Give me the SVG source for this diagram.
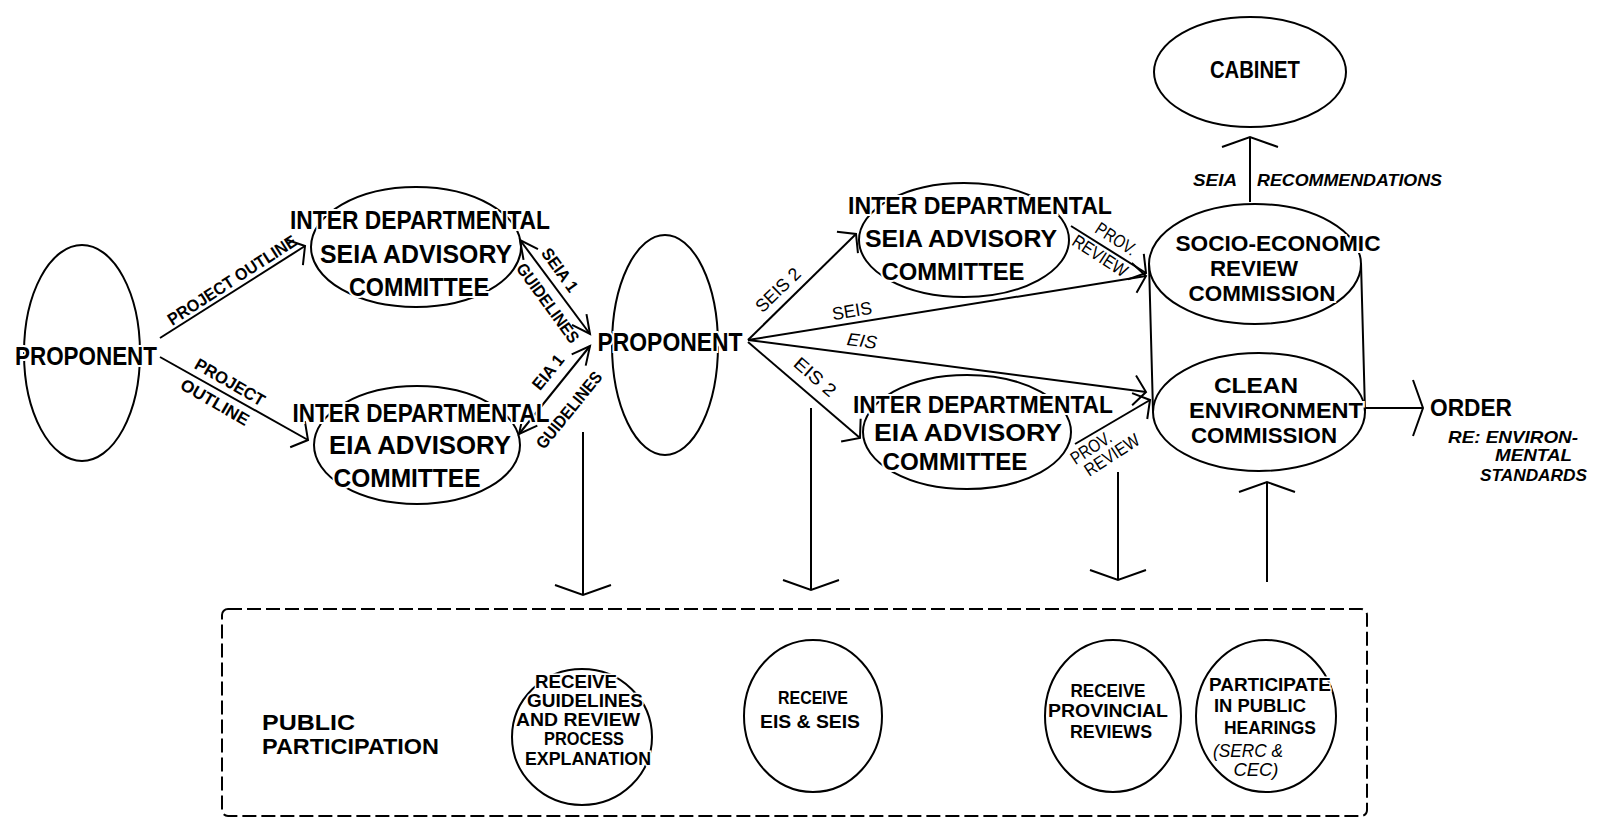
<svg xmlns="http://www.w3.org/2000/svg" width="1600" height="820" viewBox="0 0 1600 820">
<defs>
<style>
.bg{fill:#fff}
.sh{fill:none;stroke:#000;stroke-width:2}
.ln{fill:none;stroke:#000;stroke-width:2}
.mk{fill:none;stroke:#000;stroke-width:2;stroke-linejoin:miter}
.nt{font-family:"Liberation Sans",Arial,sans-serif;font-weight:bold;font-size:26px;text-anchor:middle;fill:#000;stroke:#fff;stroke-width:4;paint-order:stroke}
.nt2{font-family:"Liberation Sans",Arial,sans-serif;font-weight:bold;font-size:24px;text-anchor:middle;fill:#000;stroke:#fff;stroke-width:4;paint-order:stroke}
.nt3{font-family:"Liberation Sans",Arial,sans-serif;font-weight:bold;font-size:22px;text-anchor:middle;fill:#000;stroke:#fff;stroke-width:4;paint-order:stroke}
.ct{font-family:"Liberation Sans",Arial,sans-serif;font-weight:bold;font-size:19px;text-anchor:middle;fill:#000;stroke:#fff;stroke-width:3;paint-order:stroke}
.cti{font-family:"Liberation Sans",Arial,sans-serif;font-weight:normal;font-style:italic;font-size:19px;text-anchor:middle;fill:#000;stroke:#fff;stroke-width:3;paint-order:stroke}
.lb{font-family:"Liberation Sans",Arial,sans-serif;font-weight:bold;font-size:17px;text-anchor:middle;fill:#000}
.lr{font-family:"Liberation Sans",Arial,sans-serif;font-weight:normal;font-size:18px;text-anchor:middle;fill:#000}
.li{font-family:"Liberation Sans",Arial,sans-serif;font-weight:normal;font-style:italic;font-size:18px;text-anchor:middle;fill:#000}
.lbi{font-family:"Liberation Sans",Arial,sans-serif;font-weight:bold;font-style:italic;font-size:17px;fill:#000}
.pl{font-family:"Liberation Sans",Arial,sans-serif;font-weight:bold;font-size:22px;fill:#000}
.pp{fill:none;stroke:#000;stroke-width:2;stroke-dasharray:14 5}
</style>
<marker id="ah" markerUnits="userSpaceOnUse" orient="auto-start-reverse" refX="0" refY="0" markerWidth="60" markerHeight="60" viewBox="-30 -30 60 60" overflow="visible">
<path class="mk" d="M-12,-15 L0,0 L-12,15"/>
</marker>
<marker id="ahN" markerUnits="userSpaceOnUse" orient="auto-start-reverse" refX="0" refY="0" markerWidth="60" markerHeight="60" viewBox="-30 -30 60 60" overflow="visible">
<path class="mk" d="M-18,-9 L0,0 L-18,9"/>
</marker>
<marker id="ahW" markerUnits="userSpaceOnUse" orient="auto-start-reverse" refX="0" refY="0" markerWidth="80" markerHeight="80" viewBox="-40 -40 80 80" overflow="visible">
<path class="mk" d="M-10,-28 L0,0 L-10,28"/>
</marker>
</defs>
<rect class="bg" x="0" y="0" width="1600" height="820"/>

<g id="connectors">
<path class="ln" d="M160,338 L305,246" marker-end="url(#ah)"/>
<path class="ln" d="M160,357 L308,440" marker-end="url(#ah)"/>
<path class="ln" d="M520,240 L590,334" marker-start="url(#ahN)" marker-end="url(#ahN)"/>
<path class="ln" d="M519,434 L590,346" marker-start="url(#ahN)" marker-end="url(#ahN)"/>
<path class="ln" d="M748,340 L856,234" marker-end="url(#ah)"/>
<path class="ln" d="M748,340 L1146,276" marker-end="url(#ah)"/>
<path class="ln" d="M748,340 L1146,392" marker-end="url(#ah)"/>
<path class="ln" d="M748,342 L860,438" marker-end="url(#ah)"/>
<path class="ln" d="M1071,226 L1146,273" marker-end="url(#ah)"/>
<path class="ln" d="M1075,444 L1150,400" marker-end="url(#ah)"/>
<path class="ln" d="M1250,202 L1250,137" marker-end="url(#ahW)"/>
<path class="ln" d="M1365,408 L1423,408" marker-end="url(#ahW)"/>
<path class="ln" d="M583,432 L583,595" marker-end="url(#ahW)"/>
<path class="ln" d="M811,408 L811,590" marker-end="url(#ahW)"/>
<path class="ln" d="M1118,472 L1118,580" marker-end="url(#ahW)"/>
<path class="ln" d="M1267,582 L1267,482" marker-end="url(#ahW)"/>
<text class="lb" transform="translate(232,280) rotate(-33)" y="6" textLength="150" lengthAdjust="spacingAndGlyphs">PROJECT OUTLINE</text>
<text class="lb" transform="translate(230,382) rotate(30)" y="6" textLength="78" lengthAdjust="spacingAndGlyphs">PROJECT</text>
<text class="lb" transform="translate(215,402) rotate(30)" y="6" textLength="76" lengthAdjust="spacingAndGlyphs">OUTLINE</text>
<text class="lb" transform="translate(560,270) rotate(54)" y="6" textLength="50" lengthAdjust="spacingAndGlyphs">SEIA 1</text>
<text class="lb" transform="translate(548,303) rotate(54)" y="6" textLength="94" lengthAdjust="spacingAndGlyphs">GUIDELINES</text>
<text class="lb" transform="translate(548,372) rotate(-51)" y="6" textLength="40" lengthAdjust="spacingAndGlyphs">EIA 1</text>
<text class="lb" transform="translate(569,410) rotate(-51)" y="6" textLength="94" lengthAdjust="spacingAndGlyphs">GUIDELINES</text>
<text class="lr" transform="translate(778,290) rotate(-44)" y="6" textLength="55" lengthAdjust="spacingAndGlyphs">SEIS 2</text>
<text class="lr" transform="translate(852,311) rotate(-9.5)" y="6" textLength="40" lengthAdjust="spacingAndGlyphs">SEIS</text>
<text class="li" transform="translate(862,341) rotate(7.5)" y="6" textLength="30" lengthAdjust="spacingAndGlyphs">EIS</text>
<text class="lr" transform="translate(815,377) rotate(41)" y="6" textLength="50" lengthAdjust="spacingAndGlyphs">EIS 2</text>
<text class="lr" transform="translate(1116,239) rotate(33)" y="6" textLength="45" lengthAdjust="spacingAndGlyphs">PROV.</text>
<text class="lr" transform="translate(1100,256) rotate(33)" y="6" textLength="62" lengthAdjust="spacingAndGlyphs">REVIEW</text>
<text class="lr" transform="translate(1091,448) rotate(-33)" y="6" textLength="45" lengthAdjust="spacingAndGlyphs">PROV.</text>
<text class="lr" transform="translate(1112,455) rotate(-33)" y="6" textLength="62" lengthAdjust="spacingAndGlyphs">REVIEW</text>
<text class="lbi" x="1193" y="186" textLength="44" lengthAdjust="spacingAndGlyphs">SEIA</text>
<text class="lbi" x="1257" y="186" textLength="185" lengthAdjust="spacingAndGlyphs">RECOMMENDATIONS</text>
</g>

<g id="proponent-1">
<ellipse class="sh" cx="82" cy="353" rx="58" ry="108"/>
<text class="nt" x="86" y="365" textLength="142" lengthAdjust="spacingAndGlyphs">PROPONENT</text>
</g>

<g id="seia-committee-1">
<ellipse class="sh" cx="416" cy="247" rx="105" ry="60"/>
<text class="nt" x="420" y="229" textLength="260" lengthAdjust="spacingAndGlyphs">INTER DEPARTMENTAL</text>
<text class="nt" x="416" y="263" textLength="192" lengthAdjust="spacingAndGlyphs">SEIA ADVISORY</text>
<text class="nt" x="419" y="296" textLength="140" lengthAdjust="spacingAndGlyphs">COMMITTEE</text>
</g>

<g id="eia-committee-1">
<ellipse class="sh" cx="417" cy="445" rx="103" ry="59"/>
<text class="nt" x="421" y="422" textLength="257" lengthAdjust="spacingAndGlyphs">INTER DEPARTMENTAL</text>
<text class="nt" x="420" y="454" textLength="182" lengthAdjust="spacingAndGlyphs">EIA ADVISORY</text>
<text class="nt" x="407" y="487" textLength="147" lengthAdjust="spacingAndGlyphs">COMMITTEE</text>
</g>

<g id="proponent-2">
<ellipse class="sh" cx="665" cy="345" rx="53" ry="110"/>
<text class="nt" x="670" y="351" textLength="145" lengthAdjust="spacingAndGlyphs">PROPONENT</text>
</g>

<g id="seia-committee-2">
<ellipse class="sh" cx="964" cy="240" rx="105" ry="57"/>
<text class="nt2" x="980" y="214" textLength="264" lengthAdjust="spacingAndGlyphs">INTER DEPARTMENTAL</text>
<text class="nt2" x="961" y="247" textLength="192" lengthAdjust="spacingAndGlyphs">SEIA ADVISORY</text>
<text class="nt2" x="953" y="280" textLength="143" lengthAdjust="spacingAndGlyphs">COMMITTEE</text>
</g>

<g id="eia-committee-2">
<ellipse class="sh" cx="967" cy="432" rx="104" ry="57"/>
<text class="nt2" x="983" y="413" textLength="260" lengthAdjust="spacingAndGlyphs">INTER DEPARTMENTAL</text>
<text class="nt2" x="968" y="441" textLength="188" lengthAdjust="spacingAndGlyphs">EIA ADVISORY</text>
<text class="nt2" x="955" y="470" textLength="145" lengthAdjust="spacingAndGlyphs">COMMITTEE</text>
</g>

<g id="cabinet">
<ellipse class="sh" cx="1250" cy="72" rx="96" ry="55"/>
<text class="nt2" x="1255" y="78" textLength="90" lengthAdjust="spacingAndGlyphs">CABINET</text>
</g>

<g id="commissions">
<path class="sh" d="M1149,263 L1153,411 M1361,263 L1365,411"/>
<ellipse class="sh" cx="1255" cy="264" rx="106" ry="60"/>
<ellipse class="sh" cx="1259" cy="412" rx="106" ry="59"/>
<g id="serc">
<text class="nt3" x="1278" y="251" textLength="205" lengthAdjust="spacingAndGlyphs">SOCIO-ECONOMIC</text>
<text class="nt3" x="1254" y="276" textLength="88" lengthAdjust="spacingAndGlyphs">REVIEW</text>
<text class="nt3" x="1262" y="301" textLength="147" lengthAdjust="spacingAndGlyphs">COMMISSION</text>
</g>
<g id="cec">
<text class="nt3" x="1256" y="393" textLength="84" lengthAdjust="spacingAndGlyphs">CLEAN</text>
<text class="nt3" x="1276" y="418" textLength="174" lengthAdjust="spacingAndGlyphs">ENVIRONMENT</text>
<text class="nt3" x="1264" y="443" textLength="146" lengthAdjust="spacingAndGlyphs">COMMISSION</text>
</g>
</g>

<g id="order">
<text class="nt2" x="1471" y="416" textLength="82" lengthAdjust="spacingAndGlyphs">ORDER</text>
<text class="lbi" x="1448" y="443" textLength="130" lengthAdjust="spacingAndGlyphs">RE: ENVIRON-</text>
<text class="lbi" x="1495" y="461" textLength="77" lengthAdjust="spacingAndGlyphs">MENTAL</text>
<text class="lbi" x="1480" y="481" textLength="107" lengthAdjust="spacingAndGlyphs">STANDARDS</text>
</g>

<g id="public-participation">
<rect class="pp" x="222" y="609" width="1145" height="207" rx="6"/>
<text class="pl" x="262" y="730" textLength="93" lengthAdjust="spacingAndGlyphs">PUBLIC</text>
<text class="pl" x="262" y="754" textLength="177" lengthAdjust="spacingAndGlyphs">PARTICIPATION</text>
</g>

<g id="pp-guidelines">
<ellipse class="sh" cx="582" cy="737" rx="70" ry="68"/>
<text class="ct" x="576" y="688" textLength="82" lengthAdjust="spacingAndGlyphs">RECEIVE</text>
<text class="ct" x="585" y="707" textLength="116" lengthAdjust="spacingAndGlyphs">GUIDELINES</text>
<text class="ct" x="578" y="726" textLength="124" lengthAdjust="spacingAndGlyphs">AND REVIEW</text>
<text class="ct" x="584" y="745" textLength="80" lengthAdjust="spacingAndGlyphs">PROCESS</text>
<text class="ct" x="588" y="765" textLength="126" lengthAdjust="spacingAndGlyphs">EXPLANATION</text>
</g>

<g id="pp-eis">
<ellipse class="sh" cx="813" cy="716" rx="69" ry="76"/>
<text class="ct" x="813" y="704" textLength="70" lengthAdjust="spacingAndGlyphs">RECEIVE</text>
<text class="ct" x="810" y="728" textLength="100" lengthAdjust="spacingAndGlyphs">EIS &amp; SEIS</text>
</g>

<g id="pp-reviews">
<ellipse class="sh" cx="1113" cy="716" rx="68" ry="76"/>
<text class="ct" x="1108" y="697" textLength="75" lengthAdjust="spacingAndGlyphs">RECEIVE</text>
<text class="ct" x="1108" y="717" textLength="120" lengthAdjust="spacingAndGlyphs">PROVINCIAL</text>
<text class="ct" x="1111" y="738" textLength="82" lengthAdjust="spacingAndGlyphs">REVIEWS</text>
</g>

<g id="pp-hearings">
<ellipse class="sh" cx="1266" cy="716" rx="70" ry="76"/>
<text class="ct" x="1270" y="691" textLength="122" lengthAdjust="spacingAndGlyphs">PARTICIPATE</text>
<text class="ct" x="1260" y="712" textLength="92" lengthAdjust="spacingAndGlyphs">IN PUBLIC</text>
<text class="ct" x="1270" y="734" textLength="92" lengthAdjust="spacingAndGlyphs">HEARINGS</text>
<text class="cti" x="1248" y="757" textLength="70" lengthAdjust="spacingAndGlyphs">(SERC &amp;</text>
<text class="cti" x="1256" y="776" textLength="45" lengthAdjust="spacingAndGlyphs">CEC)</text>
</g>
</svg>
